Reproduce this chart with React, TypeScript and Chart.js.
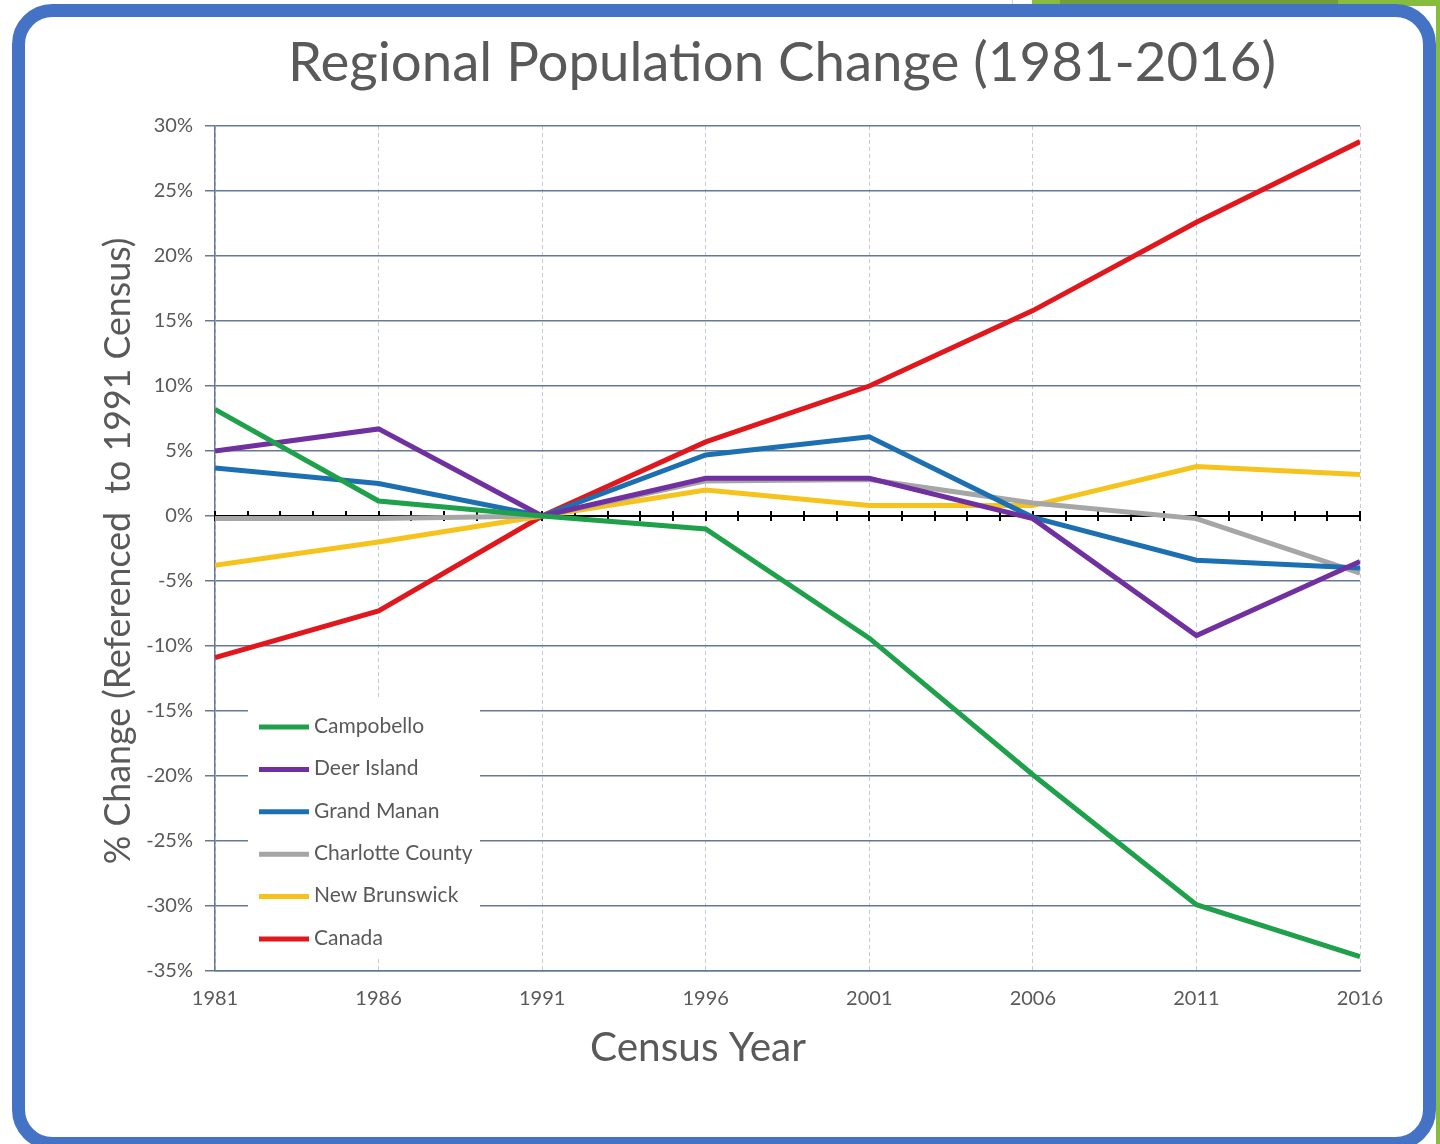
import { useEffect, useRef } from "react";
import { Chart, registerables } from "chart.js";

Chart.register(...registerables);

// ---------- data ----------
const years = [1981, 1986, 1991, 1996, 2001, 2006, 2011, 2016];
const seriesNames = ["Campobello", "Deer Island", "Grand Manan", "Charlotte County", "New Brunswick", "Canada"];
const campobello = [8.2, 1.15, 0, -1.0, -9.4, -19.9, -29.9, -33.9];
const deerIsland = [5.0, 6.7, 0, 2.9, 2.9, -0.2, -9.2, -3.5];
const grandManan = [3.7, 2.5, 0, 4.7, 6.1, -0.1, -3.4, -4.0];
const charlotteCounty = [-0.2, -0.2, 0, 2.7, 2.8, 1.0, -0.2, -4.4];
const newBrunswick = [-3.8, -2.0, 0, 2.0, 0.8, 0.8, 3.8, 3.2];
const canada = [-10.9, -7.3, 0, 5.7, 10.0, 15.8, 22.6, 28.8];
const seriesColors = ["#1fa04a", "#7030a0", "#1c6fb0", "#a6a6a6", "#f6c31c", "#e0171c"];
const yMin = -35;
const yMax = 30;
const yStep = 5;

const titleText = "Regional Population Change (1981-2016)";
const yTitleText = "% Change (Referenced  to 1991 Census)";
const xTitleText = "Census Year";

const TEXT = "#595959";
const GRID = "#677896";
const FONT = "Lato";

function fitFont(ctx: CanvasRenderingContext2D, text: string, width: number, family: string) {
  ctx.font = `100px ${family}`;
  const w = ctx.measureText(text).width;
  return (100 * width) / w;
}

const decorPlugin = {
  id: "decor",
  beforeDraw(chart: any) {
    const ctx: CanvasRenderingContext2D = chart.ctx;
    ctx.save();
    ctx.fillStyle = "#ffffff";
    ctx.fillRect(0, 0, chart.width, chart.height);
    // green background bits
    ctx.fillStyle = "#86bd3d";
    ctx.fillRect(1032, 0, 408, 6);
    ctx.fillStyle = "#6f9f3a";
    ctx.fillRect(1060, 0, 278, 4);
    ctx.fillStyle = "#86bd3d";
    ctx.fillRect(1436, 0, 4, 1144);
    ctx.strokeStyle = "#d0d0d0";
    ctx.lineWidth = 1;
    ctx.beginPath();
    ctx.moveTo(1012.5, 0);
    ctx.lineTo(1012.5, 12);
    ctx.stroke();
    // frame
    ctx.strokeStyle = "#4472c4";
    ctx.lineWidth = 13;
    ctx.beginPath();
    (ctx as any).roundRect(18.5, 10.5, 1411, 1133, 34);
    ctx.stroke();

    // titles
    ctx.fillStyle = TEXT;
    ctx.textAlign = "center";
    ctx.textBaseline = "middle";
    let s = fitFont(ctx, titleText, 988, FONT);
    ctx.font = `${s}px ${FONT}`;
    ctx.fillText(titleText, 782, 63);

    s = fitFont(ctx, xTitleText, 216, FONT);
    ctx.font = `${s}px ${FONT}`;
    ctx.fillText(xTitleText, 698, 1048);

    s = fitFont(ctx, yTitleText, 627, FONT);
    ctx.font = `${s}px ${FONT}`;
    ctx.translate(118, 551);
    ctx.rotate(-Math.PI / 2);
    ctx.fillText(yTitleText, 0, 0);
    ctx.restore();
  },
  beforeDatasetsDraw(chart: any) {
    const ctx: CanvasRenderingContext2D = chart.ctx;
    const xs = chart.scales.x;
    const ys = chart.scales.y;
    const area = chart.chartArea;
    const y0 = ys.getPixelForValue(0);
    ctx.save();
    // zero axis with yearly tick marks
    ctx.strokeStyle = "#000000";
    ctx.lineWidth = 2;
    ctx.beginPath();
    ctx.moveTo(area.left, y0);
    ctx.lineTo(area.right, y0);
    for (let yr = years[0]; yr <= years[years.length - 1]; yr++) {
      const px = Math.round(xs.getPixelForValue(yr));
      ctx.moveTo(px, y0 - 5);
      ctx.lineTo(px, y0 + 5);
    }
    ctx.stroke();

    // legend
    ctx.fillStyle = "#ffffff";
    ctx.fillRect(248, 700, 232, 258);
    ctx.font = `21px ${FONT}`;
    ctx.textAlign = "left";
    ctx.textBaseline = "middle";
    chart.data.datasets.forEach((ds: any, i: number) => {
      const ly = 726 + i * 42.4;
      ctx.strokeStyle = ds.borderColor;
      ctx.lineWidth = 5;
      ctx.beginPath();
      ctx.moveTo(259, ly + 1);
      ctx.lineTo(309, ly + 1);
      ctx.stroke();
      ctx.fillStyle = TEXT;
      ctx.fillText(ds.label, 314, ly);
    });
    ctx.restore();
  },
};

export default function App() {
  const ref = useRef<HTMLCanvasElement | null>(null);

  useEffect(() => {
    document.body.style.margin = "0";
    const canvas = ref.current;
    if (!canvas) return;
    const seriesValues = [campobello, deerIsland, grandManan, charlotteCounty, newBrunswick, canada];
    const chart = new Chart(canvas, {
      type: "line",
      data: {
        datasets: seriesValues.map((vals, i) => ({
          label: seriesNames[i],
          data: vals.map((v, j) => ({ x: years[j], y: v })),
          borderColor: seriesColors[i],
          backgroundColor: seriesColors[i],
          borderWidth: 5,
          pointRadius: 0,
          tension: 0,
          fill: false,
        })),
      },
      options: {
        animation: false,
        responsive: false,
        devicePixelRatio: 1,
        layout: { padding: { top: 126, left: 0, right: 80, bottom: 0 } },
        plugins: {
          legend: { display: false },
          title: { display: false },
          tooltip: { enabled: false },
        },
        scales: {
          x: {
            type: "linear",
            min: years[0],
            max: years[years.length - 1],
            afterBuildTicks: (scale: any) => {
              scale.ticks = years.map((v) => ({ value: v }));
            },
            afterFit: (scale: any) => {
              scale.height = 173;
            },
            grid: {
              color: "#c3cbd8",
              lineWidth: 1,
              drawTicks: false,
            },
            border: { color: GRID, width: 1.5, dash: [4, 3] },
            ticks: {
              color: TEXT,
              font: { family: FONT, size: 20 },
              padding: 16,
              maxRotation: 0,
              autoSkip: false,
              callback: (v: any) => String(v),
            },
          },
          y: {
            type: "linear",
            min: yMin,
            max: yMax,
            afterFit: (scale: any) => {
              scale.width = 215;
            },
            grid: {
              color: (c: any) => (c.tick && c.tick.value === 0 ? "rgba(0,0,0,0)" : GRID),
              tickColor: GRID,
              lineWidth: 1.5,
              tickLength: 10,
            },
            border: { color: GRID, width: 1.5 },
            ticks: {
              stepSize: yStep,
              color: TEXT,
              font: { family: FONT, size: 20 },
              padding: 12,
              callback: (v: any) => `${v}%`,
            },
          },
        },
      },
      plugins: [decorPlugin],
    } as any);
    return () => chart.destroy();
  }, []);

  return (
    <div style={{ position: "relative", width: 1440, height: 1144 }}>
      <canvas ref={ref} width={1440} height={1144} style={{ display: "block" }} />
    </div>
  );
}
